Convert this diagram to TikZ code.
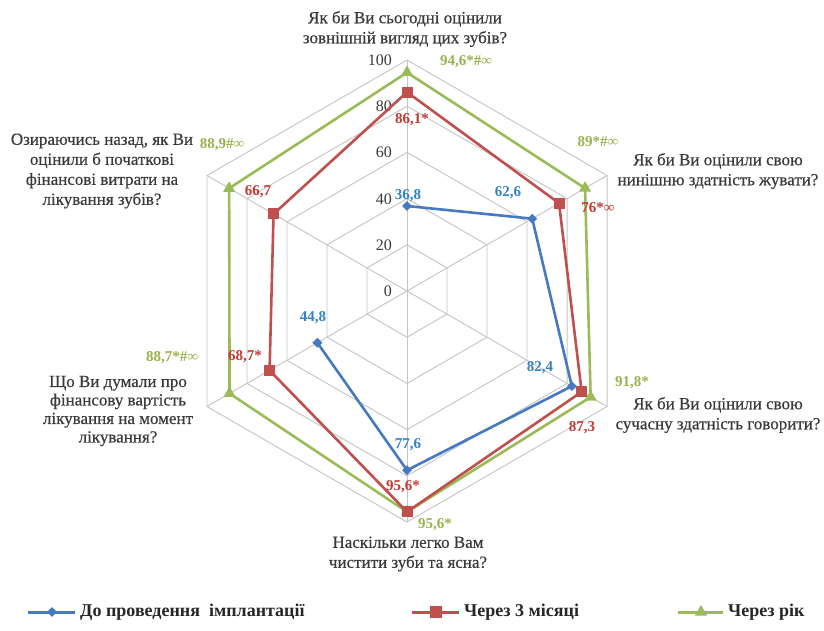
\documentclass[tikz,border=0pt]{standalone}
\usepackage{fontspec}
\setmainfont{Liberation Serif}
\usetikzlibrary{shapes.geometric}
\definecolor{sblue}{HTML}{4679C0}
\definecolor{sred}{HTML}{C0504D}
\definecolor{sgreen}{HTML}{9BBB59}
\definecolor{lblue}{HTML}{3282C8}
\definecolor{lred}{HTML}{C43A32}
\definecolor{lgreen}{HTML}{9AB24E}
\definecolor{gridc}{HTML}{C4C4C4}
\definecolor{txtc}{HTML}{3A3A3A}
\newcommand\mycx{407}
\newcommand\mycy{291}
\newcommand\myR{2.31}
\newcommand\polpt[3]{\coordinate (#1) at ({\mycx+\myR*(#3)*cos(#2)},{\mycy-\myR*(#3)*sin(#2)});}
\begin{document}
\begin{tikzpicture}[x=1pt,y=-1pt,
  gridline/.style={draw=gridc,line width=0.9pt},
  axislab/.style={align=center,text=txtc,font=\fontsize{17}{20}\selectfont\addfontfeature{FakeBold=0.4},inner sep=0pt},
  ticklab/.style={anchor=east,text=txtc,font=\fontsize{16}{18}\selectfont,inner sep=0pt},
  vlab/.style={font=\bfseries\fontsize{15}{17}\selectfont,inner sep=0pt},
  blueline/.style={draw=sblue,line width=2.6pt,line join=round},
  redline/.style={draw=sred,line width=2.6pt,line join=round},
  greenline/.style={draw=sgreen,line width=2.6pt,line join=round},
  bluemark/.style={diamond,fill=sblue,inner sep=0pt,minimum size=10pt},
  redmark/.style={rectangle,fill=sred,inner sep=0pt,minimum size=11pt},
  greenmark/.style={regular polygon,regular polygon sides=3,fill=sgreen,inner sep=0pt,minimum size=14pt},
  leglab/.style={anchor=west,text=black!85,font=\bfseries\fontsize{18}{20}\selectfont,inner sep=0pt}]
\useasboundingbox[fill=white] (0,0) rectangle (824,630);
\coordinate (O) at (\mycx,\mycy);
% grid
\foreach \v in {20,40,60,80,100}{
  \foreach \a [count=\i] in {90,30,-30,-90,-150,150}{
    \polpt{g\v-\i}{\a}{\v}
  }
  \draw[gridline] (g\v-1) -- (g\v-2) -- (g\v-3) -- (g\v-4) -- (g\v-5) -- (g\v-6) -- cycle;
}
\foreach \i in {1,...,6}{\draw[gridline] (O) -- (g100-\i);}
% tick labels
\node[ticklab] (t0) at (392,291) {0};
\node[ticklab] (t20) at (392,245) {20};
\node[ticklab] (t40) at (392,199) {40};
\node[ticklab] (t60) at (392,152) {60};
\node[ticklab] (t80) at (392,106) {80};
\node[ticklab] (t100) at (392,60) {100};
% data points
\polpt{b1}{90}{36.8}\polpt{b2}{30}{62.6}\polpt{b3}{-30}{82.4}\polpt{b4}{-90}{77.6}\polpt{b5}{-150}{44.8}
\polpt{r1}{90}{86.1}\polpt{r2}{30}{76}\polpt{r3}{-30}{87.3}\polpt{r4}{-90}{95.6}\polpt{r5}{-150}{68.7}\polpt{r6}{150}{66.7}
\polpt{q1}{90}{94.6}\polpt{q2}{30}{89}\polpt{q3}{-30}{91.8}\polpt{q4}{-90}{95.6}\polpt{q5}{-150}{88.7}\polpt{q6}{150}{88.9}
\draw[greenline] (q1) -- (q2) -- (q3) -- (q4) -- (q5) -- (q6) -- cycle;
\draw[redline] (r1) -- (r2) -- (r3) -- (r4) -- (r5) -- (r6) -- cycle;
\draw[blueline] (b5) -- (b4) -- (b3) -- (b2) -- (b1);
\foreach \i in {1,...,6}{\node[greenmark] (qm\i) at (q\i) {};}
\foreach \i in {1,...,6}{\node[redmark] (rm\i) at (r\i) {};}
\foreach \i in {1,...,5}{\node[bluemark] (bm\i) at (b\i) {};}
% value labels
\node[vlab,text=lblue] (lb1) at (408,196) {36,8};
\node[vlab,text=lblue] (lb2) at (508,193) {62,6};
\node[vlab,text=lblue] (lb3) at (540,368) {82,4};
\node[vlab,text=lblue] (lb4) at (408,445) {77,6};
\node[vlab,text=lblue] (lb5) at (313,318) {44,8};
\node[vlab,text=lred] (lr1) at (412,120) {86,1*};
\node[vlab,text=lred] (lr2) at (598,208) {76*∞};
\node[vlab,text=lred] (lr3) at (582,428) {87,3};
\node[vlab,text=lred] (lr4) at (403,487) {95,6*};
\node[vlab,text=lred] (lr5) at (245,357) {68,7*};
\node[vlab,text=lred] (lr6) at (258,192) {66,7};
\node[vlab,text=lgreen] (lq1) at (466,62) {94,6*\#∞};
\node[vlab,text=lgreen] (lq2) at (598,142) {89*\#∞};
\node[vlab,text=lgreen] (lq3) at (632,383) {91,8*};
\node[vlab,text=lgreen] (lq4) at (435,525) {95,6*};
\node[vlab,text=lgreen] (lq5) at (172,358) {88,7*\#∞};
\node[vlab,text=lgreen] (lq6) at (222,145) {88,9\#∞};
% axis labels
\node[axislab] (a1) at (405,29) {Як би Ви сьогодні оцінили\\зовнішній вигляд цих зубів?};
\node[axislab] (a2) at (718,171) {Як би Ви оцінили свою\\нинішню здатність жувати?};
\node[axislab] (a3) at (718,415) {Як би Ви оцінили свою\\сучасну здатність говорити?};
\node[axislab] (a4) at (408,554) {Наскільки легко Вам\\чистити зуби та ясна?};
\node[axislab,font=\fontsize{17}{18.5}\selectfont\addfontfeature{FakeBold=0.4}] (a5) at (118,411) {Що Ви думали про\\фінансову вартість\\лікування на момент\\лікування?};
\node[axislab] (a6) at (102,171) {Озираючись назад, як Ви\\оцінили б початкові\\фінансові витрати на\\лікування зубів?};
% legend
\coordinate (lgb1) at (28,612); \coordinate (lgb2) at (75,612);
\draw[blueline,line width=3pt] (lgb1) -- (lgb2);
\node[bluemark,minimum size=10pt] (lgbm) at (52,612) {};
\node[leglab] (lgbt) at (80,612) {До проведення\ \ імплантації};
\coordinate (lgr1) at (412,612); \coordinate (lgr2) at (459,612);
\draw[redline,line width=3pt] (lgr1) -- (lgr2);
\node[redmark,minimum size=12pt] (lgrm) at (436,612) {};
\node[leglab] (lgrt) at (464,612) {Через 3 місяці};
\coordinate (lgq1) at (678,612); \coordinate (lgq2) at (723,612);
\draw[greenline,line width=3pt] (lgq1) -- (lgq2);
\node[greenmark,minimum size=14pt] (lgqm) at (701,612) {};
\node[leglab] (lgqt) at (728,612) {Через рік};
\end{tikzpicture}
\end{document}
